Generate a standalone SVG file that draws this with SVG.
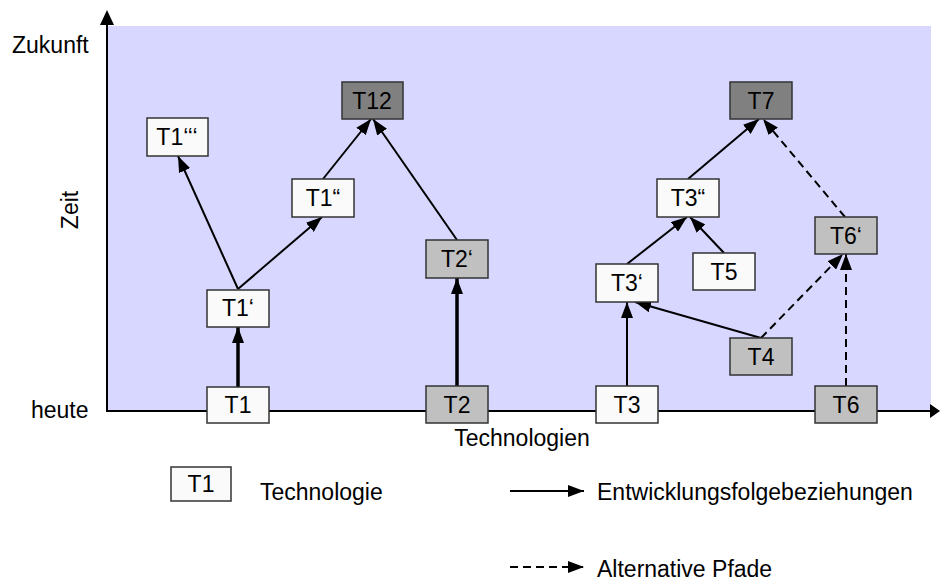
<svg xmlns="http://www.w3.org/2000/svg" width="940" height="584" viewBox="0 0 940 584">
<defs>
<style>
text{font-family:"Liberation Sans",Arial,sans-serif;font-size:23px;fill:#000}
.nt{text-anchor:middle}
.box{stroke:#333;stroke-width:1.5}
.w{fill:#fafafa}
.g{fill:#c0c0c0}
.d{fill:#808080}
.c{stroke:#000;stroke-width:2;fill:none}
.thick{stroke-width:3.5}
.dash{stroke-dasharray:8 5}
</style>
<marker id="ah" markerUnits="userSpaceOnUse" markerWidth="16" markerHeight="12" refX="16" refY="6" orient="auto">
<path d="M0,0 L16,6 L0,12 z" fill="#000"/>
</marker>
</defs>
<rect x="108" y="26" width="823" height="385" fill="#d7d7ff"/>
<g id="axes">
<line x1="107" y1="411" x2="107" y2="24" stroke="#000" stroke-width="2"/>
<path d="M100,25 L107,10 L114,25 z" fill="#000"/>
<line x1="106" y1="411" x2="931" y2="411" stroke="#000" stroke-width="2"/>
<path d="M930,404 L940,411 L930,418 z" fill="#000"/>
<text x="12" y="53">Zukunft</text>
<text x="31" y="418">heute</text>
<text x="522" y="446" class="nt">Technologien</text>
<text transform="translate(78,210) rotate(-90)" class="nt">Zeit</text>
</g>
<g id="connectors">
<line class="c thick" x1="238" y1="387" x2="238" y2="327" marker-end="url(#ah)"/>
<line class="c" x1="238" y1="289" x2="178" y2="156" marker-end="url(#ah)"/>
<line class="c" x1="238" y1="289" x2="322" y2="217" marker-end="url(#ah)"/>
<line class="c" x1="323" y1="179" x2="371" y2="119" marker-end="url(#ah)"/>
<line class="c" x1="457" y1="240" x2="373" y2="119" marker-end="url(#ah)"/>
<line class="c thick" x1="457" y1="386" x2="457" y2="278" marker-end="url(#ah)"/>
<line class="c" x1="627" y1="386" x2="627" y2="302" marker-end="url(#ah)"/>
<line class="c" x1="761" y1="338" x2="635" y2="302" marker-end="url(#ah)"/>
<line class="c" x1="627" y1="264" x2="687" y2="217" marker-end="url(#ah)"/>
<line class="c" x1="724" y1="253" x2="690" y2="217" marker-end="url(#ah)"/>
<line class="c" x1="688" y1="179" x2="759" y2="119" marker-end="url(#ah)"/>
<line class="c dash" x1="761" y1="338" x2="843" y2="254" marker-end="url(#ah)"/>
<line class="c dash" x1="846" y1="386" x2="846" y2="254" marker-end="url(#ah)"/>
<line class="c dash" x1="845" y1="217" x2="763" y2="119" marker-end="url(#ah)"/>
</g>
<g id="T1"><rect class="box w" x="207" y="387" width="62" height="36"/><text class="nt" x="238" y="413">T1</text></g>
<g id="T1p"><rect class="box w" x="207" y="290" width="62" height="37"/><text class="nt" x="238" y="316">T1‘</text></g>
<g id="T1pp"><rect class="box w" x="292" y="179" width="62" height="38"/><text class="nt" x="323" y="206">T1“</text></g>
<g id="T1ppp"><rect class="box w" x="147" y="118" width="61" height="38"/><text class="nt" x="177" y="145">T1‘‘‘</text></g>
<g id="T12"><rect class="box d" x="342" y="82" width="61" height="37"/><text class="nt" x="372" y="109">T12</text></g>
<g id="T2"><rect class="box g" x="426" y="386" width="62" height="37"/><text class="nt" x="457" y="413">T2</text></g>
<g id="T2p"><rect class="box g" x="426" y="240" width="62" height="38"/><text class="nt" x="457" y="267">T2‘</text></g>
<g id="T3"><rect class="box w" x="596" y="386" width="62" height="37"/><text class="nt" x="627" y="413">T3</text></g>
<g id="T3p"><rect class="box w" x="596" y="264" width="62" height="38"/><text class="nt" x="627" y="291">T3‘</text></g>
<g id="T3pp"><rect class="box w" x="657" y="179" width="62" height="38"/><text class="nt" x="688" y="206">T3“</text></g>
<g id="T5"><rect class="box w" x="693" y="253" width="62" height="37"/><text class="nt" x="724" y="280">T5</text></g>
<g id="T4"><rect class="box g" x="730" y="338" width="62" height="37"/><text class="nt" x="761" y="365">T4</text></g>
<g id="T7"><rect class="box d" x="730" y="82" width="62" height="37"/><text class="nt" x="761" y="109">T7</text></g>
<g id="T6p"><rect class="box g" x="815" y="217" width="62" height="37"/><text class="nt" x="846" y="244">T6‘</text></g>
<g id="T6"><rect class="box g" x="815" y="386" width="62" height="37"/><text class="nt" x="846" y="413">T6</text></g>
<g id="legend">
<rect class="box w" x="171" y="467" width="60" height="34"/><text class="nt" x="201" y="492">T1</text>
<text x="260" y="500">Technologie</text>
<line class="c" x1="510" y1="491" x2="584" y2="491" marker-end="url(#ah)"/>
<text x="597" y="500">Entwicklungsfolgebeziehungen</text>
<line class="c dash" x1="510" y1="567" x2="584" y2="567" marker-end="url(#ah)"/>
<text x="597" y="577">Alternative Pfade</text>
</g>
</svg>
